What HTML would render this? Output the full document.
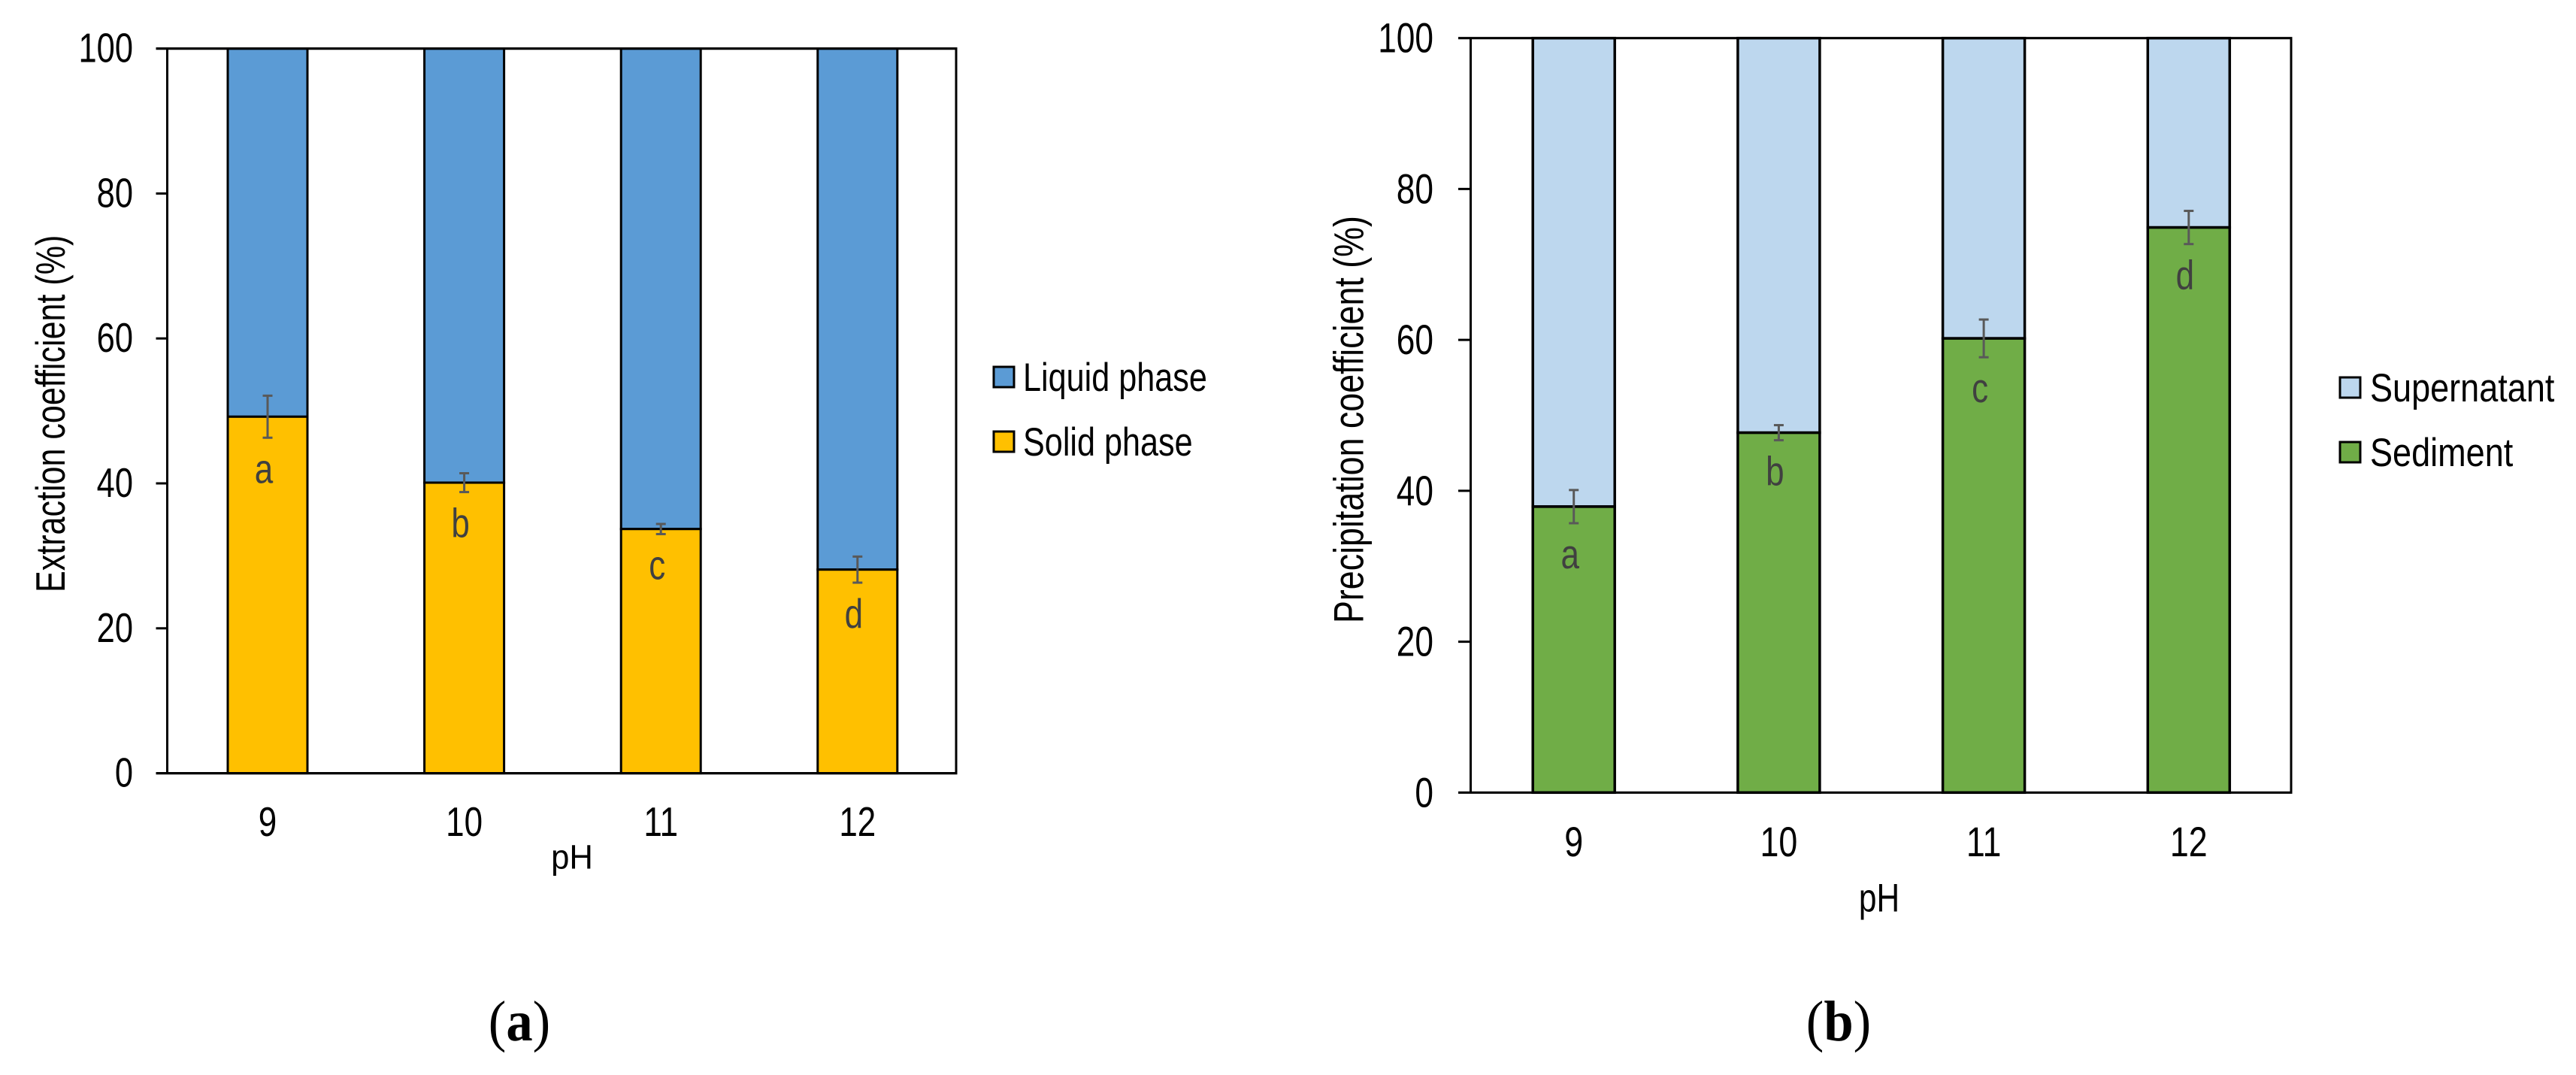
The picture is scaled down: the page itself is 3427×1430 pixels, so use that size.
<!DOCTYPE html>
<html lang="en">
<head>
<meta charset="utf-8">
<title>Extraction and precipitation coefficients by pH</title>
<style>
html,body{margin:0;padding:0;background:#fff;}
svg{display:block;}
text{font-family:"Liberation Sans",sans-serif;fill:#000;}
</style>
</head>
<body>
<svg id="figure" xmlns="http://www.w3.org/2000/svg" width="3427" height="1430" viewBox="0 0 3427 1430"></svg>
<script>
// ---- data ----
const categories = ['9', '10', '11', '12'];
const yTickLabels = [0, 20, 40, 60, 80, 100];

const solidPhase = [49.2, 40.1, 33.7, 28.1];
const liquidPhase = [50.8, 59.9, 66.3, 71.9];
const solidError = [2.9, 1.3, 0.7, 1.8];
const solidLetters = ['a', 'b', 'c', 'd'];

const sediment = [37.9, 47.7, 60.2, 74.9];
const supernatant = [62.1, 52.3, 39.8, 25.1];
const sedimentError = [2.2, 1.0, 2.5, 2.2];
const sedimentLetters = ['a', 'b', 'c', 'd'];

// ---- helpers ----
const NS = 'http://www.w3.org/2000/svg';
const root = document.getElementById('figure');

function add(parent, tag, name, props) {
  const el = document.createElementNS(NS, tag);
  
  
  for (const k in props) el.setAttribute(k, props[k]);
  parent.appendChild(el);
  return el;
}
function line(parent, name, x1, y1, x2, y2, stroke, w) {
  return add(parent, 'line', name, {x1, y1, x2, y2, stroke, 'stroke-width': w});
}
function label(parent, name, str, x, y, size, sx, anchor, rot, extra) {
  const tf = 'translate(' + x + ' ' + y + ')' + (rot ? ' rotate(' + rot + ')' : '') + ' scale(' + sx + ' 1)';
  const el = add(parent, 'text', name, {transform: tf, 'font-size': size, 'text-anchor': anchor});
  if (extra) for (const k in extra) el.setAttribute(k, extra[k]);
  el.textContent = str;
  return el;
}

function drawChart(cfg) {
  const g = add(root, 'g', cfg.name, {});
  const y = v => cfg.y0 - v * cfg.yScale;
  const x = i => cfg.x0 + i * cfg.step;
  const top = y(100), bottom = y(0);

  // stacked bars
  cfg.lower.forEach((v, i) => {
    const base = y(v);
    const upperTop = y(v + cfg.upper[i]);
    add(g, 'rect', cfg.upperName + '-bar-ph' + categories[i], {
      x: x(i) - cfg.barW / 2, y: upperTop, width: cfg.barW, height: base - upperTop,
      fill: cfg.upperColor, stroke: '#000', 'stroke-width': cfg.barStroke
    });
    add(g, 'rect', cfg.lowerName + '-bar-ph' + categories[i], {
      x: x(i) - cfg.barW / 2, y: base, width: cfg.barW, height: bottom - base,
      fill: cfg.lowerColor, stroke: '#000', 'stroke-width': cfg.barStroke
    });
  });

  // axes and plot frame
  line(g, 'y-axis-line', cfg.axisL, top, cfg.axisL, bottom, '#000', 3);
  line(g, 'plot-right-border', cfg.axisR, top, cfg.axisR, bottom, '#000', 3);
  line(g, 'plot-top-border', cfg.tickL, top, cfg.axisR + 1.5, top, '#000', 3.2);
  line(g, 'x-axis-line', cfg.tickL, bottom, cfg.axisR + 1.5, bottom, '#000', 3.2);

  // y ticks
  yTickLabels.forEach(t => {
    if (t !== 0 && t !== 100) line(g, 'y-tick-' + t, cfg.tickL, y(t), cfg.axisL, y(t), '#000', 3);
    label(g, 'y-tick-label-' + t, String(t), cfg.tickTextR, y(t) + cfg.tickDy, cfg.tickSize, 0.79, 'end');
  });

  // x tick labels
  categories.forEach((c, i) => {
    label(g, 'x-tick-label-' + c, c, x(i), cfg.xLabelY, cfg.tickSize, 0.8, 'middle');
  });

  // error bars and significance letters
  cfg.lower.forEach((v, i) => {
    const e = cfg.err[i];
    const cx = x(i);
    const hi = y(v + e), lo = y(v - e);
    const eg = add(g, 'g', 'error-bar-ph' + categories[i], {});
    line(eg, 'error-bar-stem', cx, hi, cx, lo, '#595959', 3);
    line(eg, 'error-bar-cap-top', cx - 6.5, hi, cx + 6.5, hi, '#595959', 3);
    line(eg, 'error-bar-cap-bottom', cx - 6.5, lo, cx + 6.5, lo, '#595959', 3);
    label(g, 'significance-letter-' + cfg.letters[i], cfg.letters[i], cx - 5, lo + cfg.letterDy, 55, 0.8, 'middle', 0, {style: 'fill:#404040'});
  });

  // axis titles
  label(g, 'y-axis-title', cfg.yTitle, cfg.yTitleX, cfg.yTitleY, cfg.yTitleSize, cfg.yTitleSx, 'start', -90);
  label(g, 'x-axis-title', 'pH', cfg.pHx, cfg.pHy, cfg.pHsize, cfg.pHsx, 'middle');

  // legend
  const lg = add(g, 'g', 'legend', {});
  add(lg, 'rect', 'legend-swatch-' + cfg.upperName, {x: cfg.legX, y: cfg.legY1 - 14, width: 27, height: 27, fill: cfg.upperColor, stroke: '#000', 'stroke-width': 3});
  label(lg, 'legend-label-' + cfg.upperName, cfg.upperLabel, cfg.legTextX, cfg.legY1 + 18, 53, cfg.legSx, 'start');
  add(lg, 'rect', 'legend-swatch-' + cfg.lowerName, {x: cfg.legX, y: cfg.legY2 - 14, width: 27, height: 27, fill: cfg.lowerColor, stroke: '#000', 'stroke-width': 3});
  label(lg, 'legend-label-' + cfg.lowerName, cfg.lowerLabel, cfg.legTextX, cfg.legY2 + 18, 53, cfg.legSx, 'start');

  // panel caption
  const cap = label(g, 'panel-caption', '(', cfg.capX, 1384, 76, 0.93, 'middle', 0, {style: 'font-family:"Liberation Serif",serif'});
  const b = document.createElementNS(NS, 'tspan');
  b.setAttribute('font-weight', 'bold');
  b.textContent = cfg.capLetter;
  cap.appendChild(b);
  cap.appendChild(document.createTextNode(')'));
}

drawChart({
  name: 'chart-extraction-coefficient',
  y0: 1028.6, yScale: 9.64, x0: 356, step: 261.6, barW: 106, barStroke: 3,
  axisL: 222.5, axisR: 1272, tickL: 207.5, tickTextR: 177, tickDy: 18, tickSize: 55, xLabelY: 1112,
  lower: solidPhase, upper: liquidPhase, err: solidError, letters: solidLetters, letterDy: 60,
  lowerName: 'solid-phase', upperName: 'liquid-phase',
  lowerLabel: 'Solid phase', upperLabel: 'Liquid phase',
  lowerColor: '#FFC000', upperColor: '#5B9BD5',
  yTitle: 'Extraction coefficient (%)', yTitleX: 86, yTitleY: 788, yTitleSize: 55, yTitleSx: 0.783,
  pHx: 761, pHy: 1155.5, pHsize: 45, pHsx: 0.97,
  legX: 1322, legY1: 502, legY2: 588, legTextX: 1361, legSx: 0.815,
  capX: 691, capLetter: 'a'
});

drawChart({
  name: 'chart-precipitation-coefficient',
  y0: 1054.3, yScale: 10.036, x0: 2093.7, step: 272.7, barW: 109, barStroke: 3.5,
  axisL: 1956.5, axisR: 3048, tickL: 1940, tickTextR: 1907, tickDy: 19, tickSize: 56, xLabelY: 1139,
  lower: sediment, upper: supernatant, err: sedimentError, letters: sedimentLetters, letterDy: 60,
  lowerName: 'sediment', upperName: 'supernatant',
  lowerLabel: 'Sediment', upperLabel: 'Supernatant',
  lowerColor: '#70AD47', upperColor: '#BDD7EE',
  yTitle: 'Precipitation coefficient (%)', yTitleX: 1813.5, yTitleY: 829, yTitleSize: 56, yTitleSx: 0.8,
  pHx: 2500, pHy: 1212.5, pHsize: 53, pHsx: 0.8,
  legX: 3113, legY1: 516, legY2: 602, legTextX: 3153, legSx: 0.85,
  capX: 2446, capLetter: 'b'
});
</script>
</body>
</html>
